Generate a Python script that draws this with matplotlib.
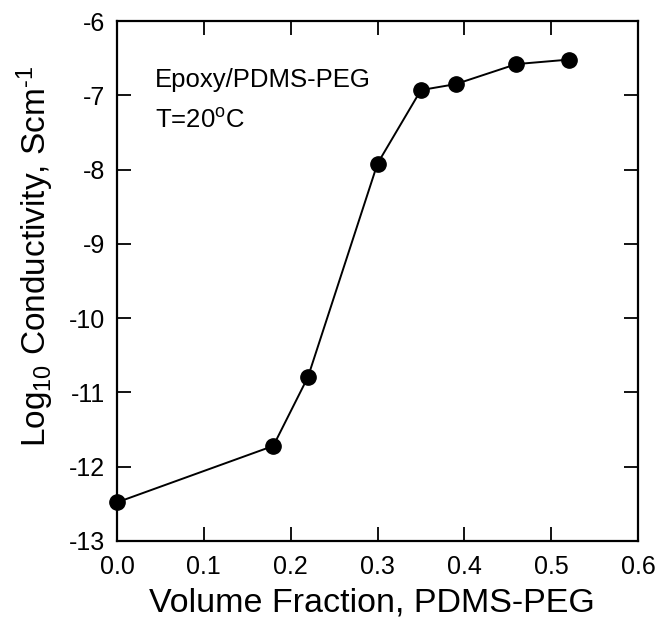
import matplotlib
matplotlib.use("Agg")
import matplotlib.pyplot as plt

vol_frac = [0.0, 0.18, 0.22, 0.30, 0.35, 0.39, 0.46, 0.52]
log_cond = [-12.48, -11.72, -10.79, -7.92, -6.93, -6.85, -6.58, -6.52]
x_ticks = [0.0, 0.1, 0.2, 0.3, 0.4, 0.5, 0.6]
x_ticklabels = ["0.0", "0.1", "0.2", "0.3", "0.4", "0.5", "0.6"]
y_ticks = [-13, -12, -11, -10, -9, -8, -7, -6]

plt.rcParams['font.family'] = ['Liberation Sans', 'DejaVu Sans']
plt.rcParams['axes.unicode_minus'] = False
plt.rcParams['mathtext.fontset'] = 'custom'
plt.rcParams['mathtext.rm'] = 'Liberation Sans'
plt.rcParams['mathtext.it'] = 'Liberation Sans'

fig = plt.figure(figsize=(6.59, 6.19), dpi=100)
ax = fig.add_axes([117/659, 1 - 541/619, (638-117)/659, (541-21)/619])

ax.plot(vol_frac, log_cond, color='black', lw=1.4, marker='o', ms=11,
        mfc='black', mec='black', clip_on=False, zorder=3)

ax.set_xlim(0, 0.6)
ax.set_ylim(-13, -6)
ax.set_xticks(x_ticks)
ax.set_xticklabels(x_ticklabels)
ax.set_yticks(y_ticks)
ax.tick_params(direction='in', top=True, right=True, length=10, width=1.3,
               labelsize=18, pad=8.5)
ax.tick_params(axis='x', pad=10)
for s in ax.spines.values():
    s.set_linewidth(1.6)

ax.set_xlabel("Volume Fraction, PDMS-PEG", fontsize=24.5, labelpad=6, x=0.489)
ax.set_ylabel("Log$_{\\mathrm{10}}$ Conductivity, Scm$^{\\text{-}\\mathrm{1}}$",
              fontsize=24, labelpad=9, y=0.548)

ax.text(0.073, 0.873, "Epoxy/PDMS-PEG", transform=ax.transAxes, fontsize=18.5,
        va='baseline', ha='left')
ax.text(0.073, 0.794, "T=20$^{\\mathrm{o}}$C", transform=ax.transAxes, fontsize=18.5,
        va='baseline', ha='left')

fig.savefig("out.png", dpi=100)
